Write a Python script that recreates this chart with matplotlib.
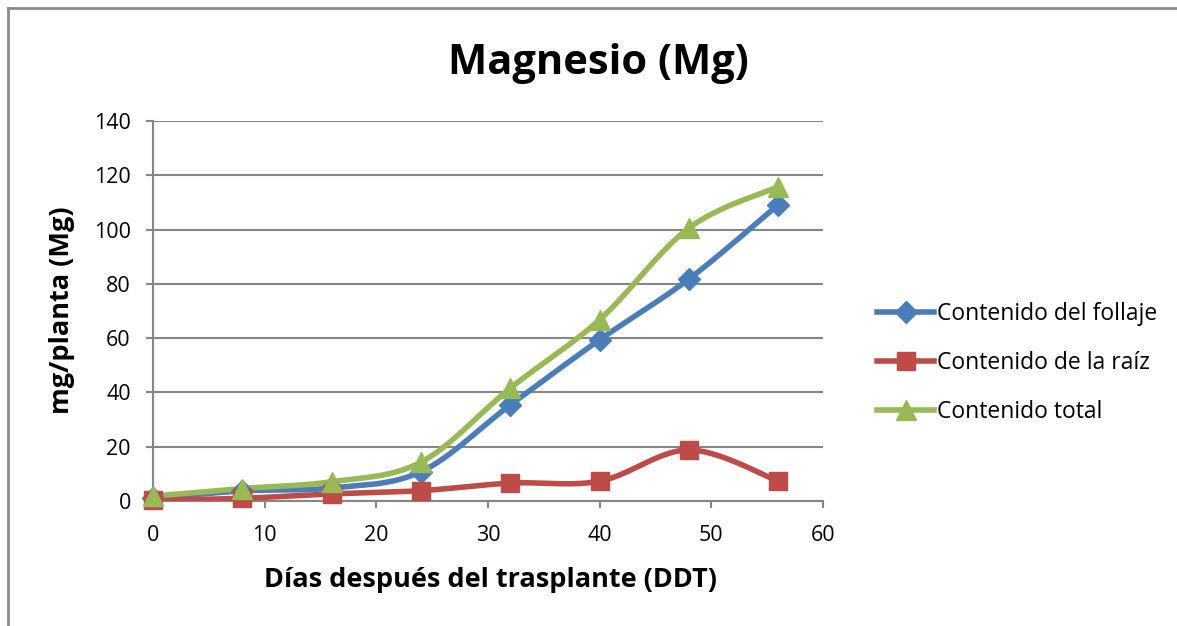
import numpy as np
import matplotlib.pyplot as plt
from matplotlib.lines import Line2D

plt.rcParams['font.family'] = ['Open Sans', 'DejaVu Sans']

dias = [0, 8, 16, 24, 32, 40, 48, 56]
follaje = [1.0, 3.7, 4.8, 10.8, 35.4, 59.4, 81.8, 109.2]
raiz = [0.3, 1.0, 2.6, 3.8, 6.6, 7.3, 18.8, 7.3]
total = [1.8, 4.6, 7.1, 14.3, 41.6, 66.8, 100.6, 115.8]

labels = ['Contenido del follaje', 'Contenido de la raíz', 'Contenido total']
colors = ['#4a7ebb', '#be4b48', '#98b954']
markers = ['D', 's', '^']


def smooth(x, y, n=30):  # bezier curve through points like excel smoothed lines
    x = np.asarray(x, float)
    y = np.asarray(y, float)
    xs, ys = [], []
    for i in range(len(x) - 1):
        p0 = np.array([x[max(i - 1, 0)], y[max(i - 1, 0)]])
        p1 = np.array([x[i], y[i]])
        p2 = np.array([x[i + 1], y[i + 1]])
        p3 = np.array([x[min(i + 2, len(x) - 1)], y[min(i + 2, len(x) - 1)]])
        c1 = p1 + (p2 - p0) / 6
        c2 = p2 - (p3 - p1) / 6
        t = np.linspace(0, 1, n)[:, None]
        pts = (1 - t) ** 3 * p1 + 3 * (1 - t) ** 2 * t * c1 + 3 * (1 - t) * t ** 2 * c2 + t ** 3 * p2
        xs.extend(pts[:, 0])
        ys.extend(pts[:, 1])
    return xs, ys


W, H = 1177, 626
fig = plt.figure(figsize=(W / 100, H / 100), dpi=100)
ax = fig.add_axes([153 / W, 1 - 501 / H, 670 / W, 380 / H])

series = [follaje, raiz, total]
handles = []
for vals, lab, c, m in zip(series, labels, colors, markers):
    sx, sy = smooth(dias, vals)
    ax.plot(sx, sy, color=c, lw=4, solid_capstyle='round', zorder=3)
    ms = 13 if m == 's' else (15 if m == '^' else 11)
    ax.plot(dias, vals, linestyle='none', marker=m, color=c, markersize=ms, zorder=4, clip_on=False)
    handles.append(Line2D([0], [0], color=c, lw=4, marker=m, markersize=ms))

ax.set_xlim(0, 60)
ax.set_ylim(0, 140)
ax.set_xticks(range(0, 61, 10))
ax.set_yticks(range(0, 141, 20))
ax.yaxis.grid(True, color='#868686', lw=1.5)
ax.set_axisbelow(True)
for s in ['top', 'right']:
    ax.spines[s].set_visible(False)
for s in ['left', 'bottom']:
    ax.spines[s].set_color('#868686')
    ax.spines[s].set_linewidth(1.5)
ax.tick_params(axis='both', labelsize=15.5, color='#868686', width=1.5, length=5, direction='out')
ax.tick_params(axis='y', pad=11)
ax.tick_params(axis='x', pad=12)

fig.text(490 / W, 1 - 580 / H, 'Días después del trasplante (DDT)', fontsize=19.5, fontweight='bold',
         ha='center', va='center')
fig.text(62 / W, 1 - 310 / H, 'mg/planta (Mg)', fontsize=19.5, fontweight='bold',
         ha='center', va='center', rotation=90)
fig.text(598 / W, 1 - 64 / H, 'Magnesio (Mg)', fontsize=30, fontweight='bold', ha='center', va='center')

fig.legend(handles, labels, loc='center left', bbox_to_anchor=(877 / W, 1 - 363 / H),
           frameon=False, fontsize=16.5, handlelength=2.5, handletextpad=0.1,
           labelspacing=1.1, borderpad=0, borderaxespad=0)

# chart border
fig.add_artist(Line2D([8 / W, 8 / W], [0, 1 - 8 / H], transform=fig.transFigure, color='#8c8c8c', lw=2))
fig.add_artist(Line2D([8 / W, 1], [1 - 8 / H, 1 - 8 / H], transform=fig.transFigure, color='#8c8c8c', lw=2))

fig.savefig('out.png', dpi=100)
